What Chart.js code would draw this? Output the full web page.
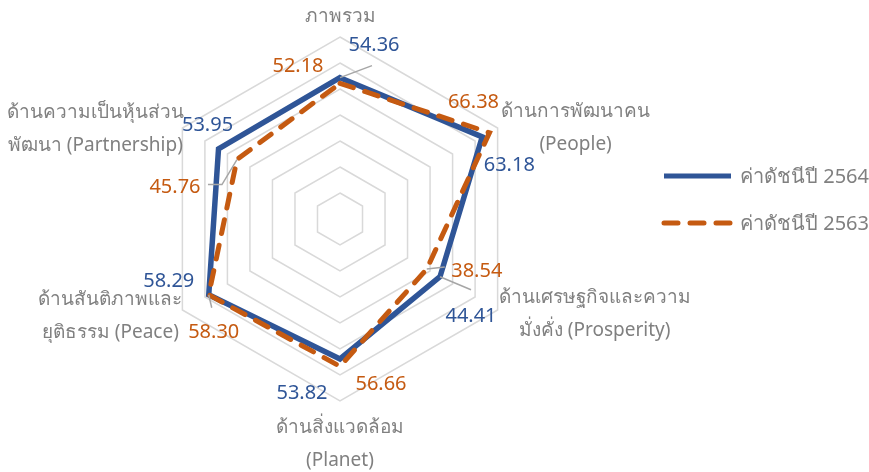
<!DOCTYPE html>
<html>
<head>
<meta charset="utf-8">
<script src="https://cdn.jsdelivr.net/npm/chart.js@4"></script>
<style>
  html, body { margin: 0; padding: 0; background: #fff; }
  canvas { display: block; }
</style>
</head>
<body>
<canvas id="graficoRadar" width="869" height="472"></canvas>
<script>
  // ข้อมูล
  const categories = [
    ['ภาพรวม'],
    ['ด้านการพัฒนาคน', '(People)'],
    ['ด้านเศรษฐกิจและความ', 'มั่งคั่ง (Prosperity)'],
    ['ด้านสิ่งแวดล้อม', '(Planet)'],
    ['ด้านสันติภาพและ', 'ยุติธรรม (Peace)'],
    ['ด้านความเป็นหุ้นส่วน', 'พัฒนา (Partnership)']
  ];
  const values2564 = [54.36, 63.18, 44.41, 53.82, 58.29, 53.95];
  const values2563 = [52.18, 66.38, 38.54, 56.66, 58.30, 45.76];
  const seriesNames = ['ค่าดัชนีปี 2564', 'ค่าดัชนีปี 2563'];
  const scaleMin = 0;
  const scaleMax = 70;
  const scaleStep = 10;

  const BLUE = '#2F5597';
  const ORANGE = '#C55A11';
  const GREY = '#808080';
  const FONT = '"Noto Sans", "Open Sans", sans-serif';

  // ตำแหน่งป้ายค่า (dx, dy จากจุดข้อมูล) และเส้นชี้
  const labelOffsets = [
    [[34, -32], [27, 28], [31, 40], [-38, 34], [-40, -13], [-11, -24]],
    [[-42, -17], [-16, -30], [50, 2], [41, 18], [5, 38], [-62, 28]]
  ];
  const leaders = [
    { 0: [[32, -12]], 2: [[31, 13]] },
    { 2: [[18, -2]], 4: [[3, 13]], 5: [[-15, 25], [-29, 25]] }
  ];
  // ตำแหน่งชื่อแกน (dx, dy ของบรรทัดแรกจากมุมนอกสุด, ระยะบรรทัด)
  const catOffsets = [[0, -20], [78, -16], [97, -12], [0, 27], [-72, -10], [-87, -15]];
  const lineGap = 33;

  const labelsPlugin = {
    id: 'labelsPlugin',
    afterDraw(chart) {
      const ctx = chart.ctx;
      const scale = chart.scales.r;
      ctx.save();
      ctx.textAlign = 'center';
      ctx.textBaseline = 'middle';

      // ชื่อแกน
      ctx.font = '19px ' + FONT;
      ctx.fillStyle = GREY;
      categories.forEach((lines, i) => {
        const p = scale.getPointPosition(i, scale.drawingArea);
        lines.forEach((t, k) => {
          ctx.fillText(t, p.x + catOffsets[i][0], p.y + catOffsets[i][1] + k * lineGap);
        });
      });

      // เส้นชี้
      ctx.strokeStyle = '#A6A6A6';
      ctx.lineWidth = 1.5;
      leaders.forEach((set, d) => {
        const meta = chart.getDatasetMeta(d);
        Object.keys(set).forEach(i => {
          const pt = meta.data[i];
          ctx.beginPath();
          ctx.moveTo(pt.x, pt.y);
          set[i].forEach(o => ctx.lineTo(pt.x + o[0], pt.y + o[1]));
          ctx.stroke();
        });
      });

      // ป้ายค่า
      ctx.font = '20px ' + FONT;
      chart.data.datasets.forEach((ds, d) => {
        const meta = chart.getDatasetMeta(d);
        ctx.fillStyle = ds.borderColor;
        meta.data.forEach((pt, i) => {
          const o = labelOffsets[d][i];
          ctx.fillText(ds.data[i].toFixed(2), pt.x + o[0], pt.y + o[1]);
        });
      });

      // คำอธิบาย
      chart.data.datasets.forEach((ds, d) => {
        const y = 176 + d * 47;
        ctx.beginPath();
        ctx.strokeStyle = ds.borderColor;
        ctx.lineWidth = 5;
        ctx.lineCap = ds.borderCapStyle;
        ctx.setLineDash(ds.borderDash);
        ctx.moveTo(664, y);
        ctx.lineTo(731, y);
        ctx.stroke();
        ctx.setLineDash([]);
        ctx.fillStyle = GREY;
        ctx.textAlign = 'left';
        ctx.fillText(ds.label, 740, y + 1);
      });
      ctx.restore();
    }
  };

  const ctx = document.getElementById('graficoRadar').getContext('2d');
  const graficoRadar = new Chart(ctx, {
    type: 'radar',
    data: {
      labels: categories,
      datasets: [{
        label: seriesNames[0],
        data: values2564,
        borderColor: BLUE,
        borderWidth: 5.5,
        borderCapStyle: 'butt',
        borderDash: [],
        fill: false,
        pointRadius: 0,
        order: 1
      }, {
        label: seriesNames[1],
        data: values2563,
        borderColor: ORANGE,
        borderWidth: 5,
        borderCapStyle: 'round',
        borderDash: [14, 12],
        fill: false,
        pointRadius: 0,
        order: 0
      }]
    },
    options: {
      responsive: false,
      animation: false,
      layout: {
        padding: { left: 158, right: 346, top: 37, bottom: 71 }
      },
      plugins: {
        legend: { display: false },
        tooltip: { enabled: false }
      },
      scales: {
        r: {
          min: scaleMin,
          max: scaleMax,
          ticks: { stepSize: scaleStep, display: false },
          grid: { color: '#D9D9D9', lineWidth: 1.5 },
          angleLines: { display: false },
          pointLabels: { display: false }
        }
      }
    },
    plugins: [labelsPlugin]
  });
</script>
</body>
</html>
